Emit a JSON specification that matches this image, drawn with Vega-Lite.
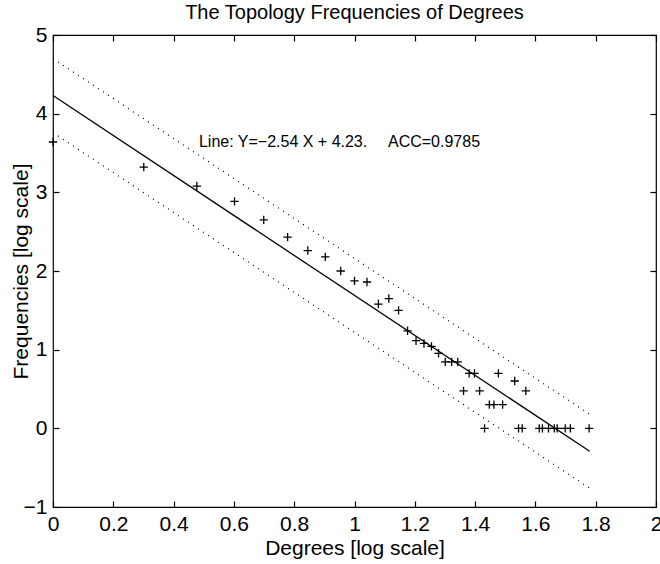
{
  "$schema": "https://vega.github.io/schema/vega-lite/v6.json",
  "width": 603,
  "height": 472,
  "autosize": "none",
  "padding": {"left": 53, "top": 35, "right": 4, "bottom": 57},
  "background": "white",
  "config": {
    "font": "Liberation Sans",
    "view": {"stroke": "black", "strokeWidth": 1.2},
    "axis": {
      "domain": false,
      "grid": false,
      "tickColor": "black",
      "tickWidth": 1.2,
      "labelColor": "black",
      "titleColor": "black",
      "labelFont": "Liberation Sans",
      "titleFont": "Liberation Sans",
      "labelFontSize": 21,
      "titleFontSize": 21,
      "titleFontWeight": "normal",
      "labelFlush": false
    }
  },
  "title": {
    "text": "The Topology Frequencies of Degrees",
    "font": "Liberation Sans",
    "fontSize": 20,
    "fontWeight": "normal",
    "color": "black",
    "frame": "group",
    "anchor": "middle",
    "offset": 1
  },
  "datasets": {
    "fit": [
      {"x": 0, "y": 4.23},
      {"x": 1.78, "y": -0.291}
    ],
    "band": [
      {"x": 0, "y": 4.70, "side": "upper"},
      {"x": 1.78, "y": 0.179, "side": "upper"},
      {"x": 0, "y": 3.76, "side": "lower"},
      {"x": 1.78, "y": -0.761, "side": "lower"}
    ],
    "pts": [
      {"x": 0, "y": 3.64},
      {"x": 0.30103, "y": 3.32},
      {"x": 0.47712, "y": 3.08},
      {"x": 0.60206, "y": 2.885},
      {"x": 0.69897, "y": 2.65},
      {"x": 0.77815, "y": 2.43},
      {"x": 0.8451, "y": 2.26},
      {"x": 0.90309, "y": 2.18},
      {"x": 0.95424, "y": 2.0},
      {"x": 1.0, "y": 1.875},
      {"x": 1.04139, "y": 1.86},
      {"x": 1.07918, "y": 1.58},
      {"x": 1.11394, "y": 1.65},
      {"x": 1.14613, "y": 1.5},
      {"x": 1.17609, "y": 1.24},
      {"x": 1.20412, "y": 1.114},
      {"x": 1.23045, "y": 1.079},
      {"x": 1.25527, "y": 1.041},
      {"x": 1.27875, "y": 0.954},
      {"x": 1.30103, "y": 0.845},
      {"x": 1.32222, "y": 0.845},
      {"x": 1.34242, "y": 0.845},
      {"x": 1.36173, "y": 0.477},
      {"x": 1.38021, "y": 0.699},
      {"x": 1.39794, "y": 0.699},
      {"x": 1.41497, "y": 0.477},
      {"x": 1.43136, "y": 0},
      {"x": 1.44716, "y": 0.301},
      {"x": 1.4624, "y": 0.301},
      {"x": 1.47712, "y": 0.699},
      {"x": 1.49136, "y": 0.301},
      {"x": 1.53148, "y": 0.602},
      {"x": 1.54407, "y": 0},
      {"x": 1.5563, "y": 0},
      {"x": 1.5682, "y": 0.477},
      {"x": 1.61278, "y": 0},
      {"x": 1.62325, "y": 0},
      {"x": 1.64345, "y": 0},
      {"x": 1.66276, "y": 0},
      {"x": 1.6721, "y": 0},
      {"x": 1.69897, "y": 0},
      {"x": 1.716, "y": 0},
      {"x": 1.77815, "y": 0}
    ],
    "notes": [
      {"x": 0.484, "y": 3.635, "label": "Line: Y=−2.54 X + 4.23."},
      {"x": 1.111, "y": 3.635, "label": "ACC=0.9785"}
    ]
  },
  "layer": [
    {
      "data": {"name": "fit"},
      "mark": {"type": "line", "color": "black", "strokeWidth": 1.3},
      "encoding": {
        "x": {
          "field": "x", "type": "quantitative",
          "scale": {"domain": [0, 2], "nice": false, "zero": false},
          "axis": {
            "orient": "bottom",
            "values": [0, 0.2, 0.4, 0.6, 0.8, 1, 1.2, 1.4, 1.6, 1.8, 2],
            "format": "~g",
            "tickSize": -6,
            "labelPadding": 12,
            "title": "Degrees [log scale]",
            "titleBaseline": "middle",
            "titleAnchor": "middle",
            "titleY": 41
          }
        },
        "y": {
          "field": "y", "type": "quantitative",
          "scale": {"domain": [-1, 5], "nice": false, "zero": false},
          "axis": {
            "orient": "left",
            "values": [-1, 0, 1, 2, 3, 4, 5],
            "tickSize": -6,
            "labelPadding": 12,
            "title": "Frequencies [log scale]",
            "titleAngle": -90,
            "titleBaseline": "middle",
            "titleAlign": "center",
            "titleX": -32,
            "titleY": 236
          }
        }
      }
    },
    {
      "data": {"name": "band"},
      "mark": {"type": "line", "color": "black", "strokeWidth": 1.2, "strokeDash": [1, 5]},
      "encoding": {
        "x": {
          "field": "x", "type": "quantitative",
          "axis": {
            "orient": "top",
            "values": [0, 0.2, 0.4, 0.6, 0.8, 1, 1.2, 1.4, 1.6, 1.8, 2],
            "labels": false,
            "tickSize": -6,
            "title": null
          }
        },
        "y": {
          "field": "y", "type": "quantitative",
          "axis": {
            "orient": "right",
            "values": [-1, 0, 1, 2, 3, 4, 5],
            "labels": false,
            "tickSize": -6,
            "title": null
          }
        },
        "detail": {"field": "side"}
      }
    },
    {
      "data": {"name": "pts"},
      "mark": {"type": "point", "shape": "M-1,0L1,0M0,-1L0,1", "filled": false, "size": 70, "color": "black", "strokeWidth": 1.3, "opacity": 1},
      "encoding": {
        "x": {"field": "x", "type": "quantitative", "axis": null},
        "y": {"field": "y", "type": "quantitative", "axis": null}
      }
    },
    {
      "data": {"name": "notes"},
      "mark": {"type": "text", "align": "left", "baseline": "middle", "fontSize": 16, "color": "black", "font": "Liberation Sans"},
      "encoding": {
        "x": {"field": "x", "type": "quantitative", "axis": null},
        "y": {"field": "y", "type": "quantitative", "axis": null},
        "text": {"field": "label"}
      }
    }
  ],
  "resolve": {"axis": {"x": "independent", "y": "independent"}}
}
